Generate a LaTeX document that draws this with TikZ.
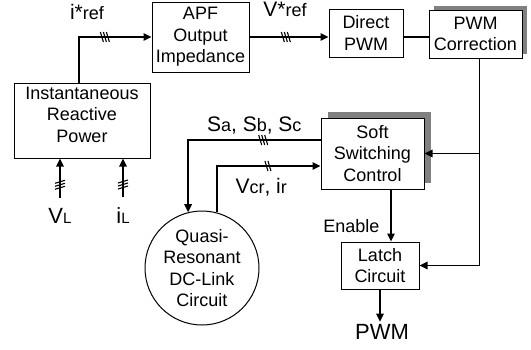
\documentclass[tikz,border=0pt]{standalone}
\usepackage{fontspec}
\setmainfont{Liberation Sans}
\usepackage{tikz}
\usetikzlibrary{arrows.meta, positioning, shapes.geometric, shadows, decorations.markings}
\definecolor{shade}{HTML}{808080}
\newcommand{\lo}[2][18]{{\fontsize{#1}{#1}\selectfont #2}}
\tikzset{
  blk/.style={rectangle, draw=black, line width=1pt, fill=white, align=center, font=\fontsize{18}{21.5}\selectfont, inner sep=2pt},
  shd/.style={drop shadow={shadow xshift=#1, shadow yshift=#1, fill=shade, opacity=1}},
  arr/.style={-{Triangle[length=8pt, width=7.5pt]}, line width=1.5pt},
  wire/.style={line width=1.5pt},
  tri/.style={postaction={decorate, decoration={markings, mark=at position #1 with {\draw[-, line width=1.1pt] (-4.5,-5) -- (-1.5,5) (-1.5,-5) -- (1.5,5) (1.5,-5) -- (4.5,5);}}}},
  duo/.style={postaction={decorate, decoration={markings, mark=at position #1 with {\draw[-, line width=1.1pt] (-3,-5) -- (0,5) (0,-5) -- (3,5);}}}},
}

\begin{document}
\begin{tikzpicture}[x=1pt, y=-1pt,
  lbl/.style={font=\fontsize{21}{24}\selectfont, inner sep=2pt},
  big/.style={font=\fontsize{22}{25}\selectfont, inner sep=2pt}]
\useasboundingbox (0,0) rectangle (531,349);
\node[blk, minimum width=136pt, minimum height=75pt, text depth=12pt] (irp) at (82,120.5) {Instantaneous\\Reactive\\Power};
\node[blk, minimum width=97pt, minimum height=70pt] (apf) at (200.5,37) {APF\\Output\\Impedance};
\node[blk, minimum width=74pt, minimum height=48pt] (dpwm) at (366,33) {Direct\\PWM};
\node[blk, shd=4.5pt, minimum width=93pt, minimum height=48pt] (pwmc) at (475.5,34) {PWM\\Correction};
\node[blk, shd=6.5pt, minimum width=103pt, minimum height=71pt] (ssc) at (372.5,153.5) {Soft\\Switching\\Control};
\node[blk, minimum width=78pt, minimum height=47pt] (latch) at (380,265.5) {Latch\\Circuit};
\node[blk, circle, minimum size=114pt, inner sep=0pt] (qr) at (202,268) {Quasi-\\Resonant\\DC-Link\\Circuit};
\node[big] (pwm) at (382,331.5) {PWM};
\node[big, inner ysep=10pt] (vl) at (60,215.5) {V\lo[15]{L}};
\node[big, inner ysep=10pt] (il) at (123,215.5) {i\lo[15]{L}};

\draw[arr, tri=0.605] ([xshift=-3pt]irp.north) |- (apf.west) node[lbl, above=15pt, pos=0.555] {i*\lo{ref}};
\draw[arr, tri=0.46] (apf.east) -- (apf.east -| dpwm.west) node[lbl, above=18pt, pos=0.45] {V*\lo{ref}};
\draw[wire] (apf.east -| dpwm.east) -- (apf.east -| pwmc.west);
\coordinate (bus) at ([xshift=4pt]pwmc.south);
\draw[arr] (bus) |- (latch.east);
\draw[arr] (ssc.east -| bus) -- (ssc.east);
\coordinate (en) at ([xshift=18.5pt]ssc.south);
\draw[arr] (en) -- (en |- latch.north) node[blk, draw=none, fill=none, left=9pt, pos=0.7] {Enable};
\draw[arr] (latch.south) -- (latch.south |- pwm.north);
\draw[arr, tri=0.28] ([yshift=13.5pt]ssc.west) -| (qr.104) node[lbl, above=3pt, pos=0.25] {S\lo{a}, S\lo{b}, S\lo{c}};
\draw[arr, duo=0.65] (qr.75) |- ([yshift=-12.5pt]ssc.west) node[lbl, below=10pt, pos=0.714] {V\lo{cr}, i\lo{r}};
\draw[arr, tri=0.33] (vl.north) -- (vl.north |- irp.south);
\draw[arr, tri=0.33] (il.north) -- (il.north |- irp.south);
\end{tikzpicture}
\end{document}
